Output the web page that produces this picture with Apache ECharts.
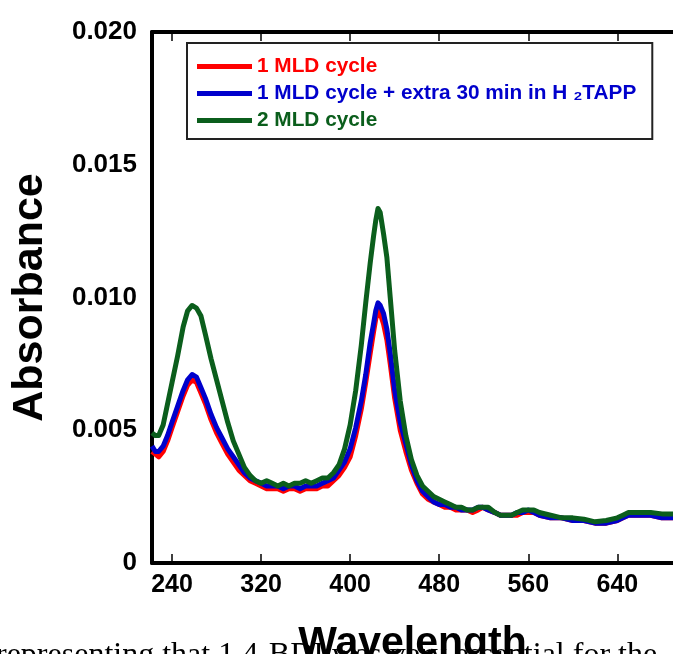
<!DOCTYPE html>
<html>
<head>
<meta charset="utf-8">
<script src="https://cdn.jsdelivr.net/npm/echarts@6/dist/echarts.min.js"></script>
<style>html,body{margin:0;padding:0;background:#fff;}#chart{width:673px;height:654px;}</style>
</head>
<body>
<div id="chart"></div>
<script>
// Wavelength (nm)
var wavelengths = [222,225,228,232,236,240,245,250,254,258,262,266,270,275,280,285,290,295,300,305,310,315,320,325,330,335,340,345,350,355,360,365,370,375,380,385,390,395,400,405,410,414,418,421,423,425,427,430,433,436,440,445,450,455,460,465,470,475,480,485,490,495,500,505,510,515,519,524,530,535,540,545,550,555,560,565,570,580,590,600,610,620,630,640,645,650,655,660,665,670,680,690,700];
// 1 MLD cycle (red)
var redValues = [0.0042,0.0041,0.0040,0.0042,0.0046,0.0051,0.0057,0.0063,0.0067,0.0069,0.0068,0.0064,0.0060,0.0054,0.0049,0.0045,0.0041,0.0038,0.0035,0.0033,0.0031,0.0030,0.0029,0.0028,0.0028,0.0028,0.0027,0.0028,0.0028,0.0027,0.0028,0.0028,0.0028,0.0029,0.0029,0.0031,0.0033,0.0036,0.0040,0.0048,0.0058,0.0068,0.0079,0.0087,0.0092,0.0095,0.0094,0.0090,0.0084,0.0075,0.0062,0.0050,0.0042,0.0035,0.0030,0.0026,0.0024,0.0023,0.0022,0.0021,0.0021,0.0020,0.0020,0.0020,0.0019,0.0020,0.0021,0.0020,0.0019,0.0018,0.0018,0.0018,0.0018,0.0019,0.0019,0.0019,0.0018,0.0017,0.0017,0.0016,0.0016,0.0015,0.0015,0.0016,0.0017,0.0018,0.0018,0.0018,0.0018,0.0018,0.0017,0.0017,0.0017];
// 1 MLD cycle + extra 30 min in H2TAPP (blue)
var blueValues = [0.0044,0.0042,0.0042,0.0044,0.0048,0.0053,0.0059,0.0065,0.0069,0.0071,0.0070,0.0066,0.0062,0.0056,0.0051,0.0047,0.0043,0.0040,0.0037,0.0034,0.0032,0.0031,0.0030,0.0029,0.0029,0.0029,0.0028,0.0029,0.0029,0.0028,0.0029,0.0029,0.0029,0.0030,0.0031,0.0032,0.0035,0.0038,0.0043,0.0051,0.0061,0.0071,0.0083,0.0090,0.0095,0.0098,0.0097,0.0094,0.0088,0.0079,0.0065,0.0053,0.0045,0.0037,0.0031,0.0027,0.0025,0.0023,0.0022,0.0022,0.0021,0.0021,0.0020,0.0020,0.0020,0.0021,0.0021,0.0020,0.0019,0.0018,0.0018,0.0018,0.0019,0.0019,0.0020,0.0019,0.0018,0.0017,0.0017,0.0016,0.0016,0.0015,0.0015,0.0016,0.0017,0.0018,0.0018,0.0018,0.0018,0.0018,0.0017,0.0017,0.0017];
// 2 MLD cycle (green)
var greenValues = [0.0049,0.0048,0.0048,0.0052,0.0060,0.0068,0.0078,0.0089,0.0095,0.0097,0.0096,0.0093,0.0086,0.0077,0.0069,0.0061,0.0053,0.0046,0.0041,0.0036,0.0033,0.0031,0.0030,0.0031,0.0030,0.0029,0.0030,0.0029,0.0030,0.0030,0.0031,0.0030,0.0031,0.0032,0.0032,0.0034,0.0037,0.0043,0.0052,0.0065,0.0082,0.0098,0.0113,0.0123,0.0129,0.01335,0.0132,0.0124,0.0115,0.0100,0.0080,0.0061,0.0048,0.0039,0.0033,0.0029,0.0027,0.0025,0.0024,0.0023,0.0022,0.0021,0.0021,0.0020,0.0020,0.0021,0.0021,0.0021,0.0019,0.0018,0.0018,0.0018,0.0019,0.0020,0.0020,0.0020,0.0019,0.0018,0.0017,0.0017,0.00165,0.00155,0.0016,0.0017,0.0018,0.0019,0.0019,0.0019,0.0019,0.0019,0.00185,0.00185,0.0018];

var seriesNames = ['1 MLD cycle', '1 MLD cycle + extra 30 min in H \u2082TAPP', '2 MLD cycle'];
var seriesColors = ['#ff0000', '#0000cc', '#0b5e1c'];
var xTicks = [240, 320, 400, 480, 560, 640];
var yTickLabels = ['0', '0.005', '0.010', '0.015', '0.020'];
var bodyText = 'representing that 1,4-BDI was very essential for the';

function pairs(vals) { return wavelengths.map(function (w, i) { return [w, vals[i]]; }); }
var allValues = [redValues, blueValues, greenValues];

var FONT = '"Liberation Sans", Arial, sans-serif';
var chart = echarts.init(document.getElementById('chart'), null, {renderer: 'canvas'});
var option = {
  backgroundColor: '#ffffff',
  animation: false,
  grid: {left: 152, top: 32, bottom: 91, right: 0, containLabel: false, outerBoundsMode: 'none'},
  legend: {
    orient: 'vertical', left: 187, top: 43,
    padding: [13, 16, 8, 10], itemGap: 6, itemWidth: 55, itemHeight: 5,
    icon: 'rect', borderColor: '#222', borderWidth: 2, backgroundColor: '#fff',
    textStyle: {fontFamily: FONT, fontWeight: 'bold', fontSize: 20.8, lineHeight: 21},
    data: seriesNames.map(function (n, i) { return {name: n, textStyle: {color: seriesColors[i]}}; })
  },
  xAxis: [{
    type: 'value', min: 222, max: 690, position: 'bottom',
    name: 'Wavelength', nameLocation: 'middle', nameGap: 60,
    nameTextStyle: {fontFamily: FONT, fontWeight: 'bold', fontSize: 41, color: '#000'},
    axisLine: {lineStyle: {color: '#000', width: 4}},
    axisTick: {inside: true, length: 9, customValues: xTicks, lineStyle: {color: '#000', width: 1.5}},
    axisLabel: {customValues: xTicks, margin: 10, fontFamily: FONT, fontWeight: 'bold', fontSize: 25, color: '#000'},
    splitLine: {show: false}
  }, {
    type: 'value', min: 222, max: 690, position: 'top',
    axisLine: {lineStyle: {color: '#000', width: 4}},
    axisTick: {inside: true, length: 9, customValues: xTicks, lineStyle: {color: '#000', width: 1.5}},
    axisLabel: {show: false},
    splitLine: {show: false}
  }],
  yAxis: {
    type: 'value', min: 0, max: 0.02, interval: 0.005,
    name: 'Absorbance', nameLocation: 'middle', nameRotate: 90, nameGap: 100,
    nameTextStyle: {fontFamily: FONT, fontWeight: 'bold', fontSize: 43, color: '#000'},
    axisLine: {show: true, lineStyle: {color: '#000', width: 4}},
    axisTick: {show: false},
    axisLabel: {margin: 15, fontFamily: FONT, fontWeight: 'bold', fontSize: 26, color: '#000',
      formatter: function (v) { return yTickLabels[Math.round(v / 0.005)]; }},
    splitLine: {show: false}
  },
  graphic: [{
    type: 'text', left: -4, top: 640, z: 0,
    style: {text: bodyText, font: '32px "Liberation Serif", "Times New Roman", serif', fill: '#000'}
  }],
  series: allValues.map(function (vals, i) {
    return {
      name: seriesNames[i], type: 'line', xAxisIndex: 0, data: pairs(vals),
      showSymbol: false, symbol: 'none', z: 2 + i,
      lineStyle: {color: seriesColors[i], width: 5, join: 'round'},
      itemStyle: {color: seriesColors[i]}
    };
  })
};
chart.setOption(option);
</script>
</body>
</html>
